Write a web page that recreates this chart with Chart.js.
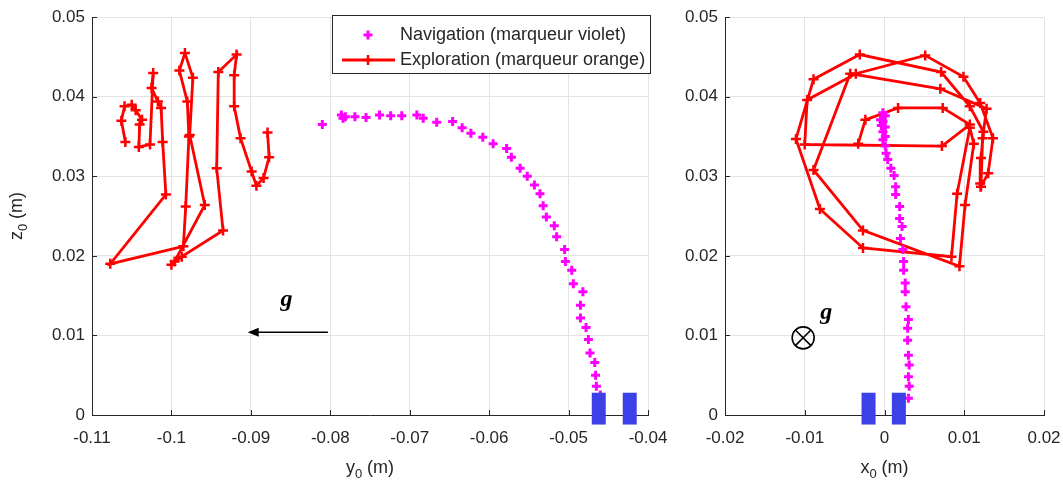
<!DOCTYPE html>
<html><head><meta charset="utf-8">
<script src="https://cdn.jsdelivr.net/npm/chart.js@4.4.1/dist/chart.umd.min.js"></script>
<style>
html,body{margin:0;padding:0;background:#fff;}
#wrap{position:relative;width:1063px;height:489px;overflow:hidden;background:#fff;}
canvas{position:absolute;left:0;top:0;}
</style></head><body>
<div id="wrap"><canvas id="cL" width="1063" height="489"></canvas><canvas id="cR" width="1120" height="489"></canvas></div>
<script>
// ---------- data (left panel: y0 vs z0) ----------
const navLeftY = [-0.0810,-0.0786,-0.0784,-0.0781,-0.0769,-0.0755,-0.0738,-0.0724,-0.0710,-0.0691,-0.0683,-0.0666,-0.0646,-0.0634,-0.0623,-0.0608,-0.0595,-0.0578,-0.0572,-0.0561,-0.0552,-0.0543,-0.0536,-0.0532,-0.0528,-0.0518,-0.0515,-0.0505,-0.0504,-0.0496,-0.0494,-0.0482,-0.0485,-0.0485,-0.0478,-0.0475,-0.0473,-0.0467,-0.0466,-0.0465,-0.0460];
const navLeftZ = [0.0365,0.0377,0.0373,0.0375,0.0375,0.0374,0.0377,0.0376,0.0376,0.0377,0.0373,0.0368,0.0369,0.0361,0.0354,0.0349,0.0341,0.0335,0.0324,0.0310,0.0300,0.0289,0.0278,0.0263,0.0249,0.0238,0.0224,0.0208,0.0193,0.0182,0.0165,0.0155,0.0138,0.0122,0.0110,0.0095,0.0078,0.0066,0.0050,0.0036,0.0025];
const expLeftY = [-0.1058,-0.1063,-0.1059,-0.1050,-0.1045,-0.1037,-0.1040,-0.1041,-0.1027,-0.1023,-0.1025,-0.1017,-0.1013,-0.1011,-0.1007,-0.1077,-0.0985,-0.0982,-0.0978,-0.0980,-0.0990,-0.0983,-0.0973,-0.0977,-0.0958,-0.0996,-0.1000,-0.0987,-0.0935,-0.0943,-0.0941,-0.0918,-0.0921,-0.0921,-0.0913,-0.0899,-0.0893,-0.0884,-0.0877,-0.0879];
const expLeftZ = [0.0343,0.0370,0.0388,0.0390,0.0383,0.0371,0.0365,0.0337,0.0340,0.0430,0.0411,0.0394,0.0386,0.0343,0.0277,0.0190,0.0212,0.0262,0.0350,0.0394,0.0433,0.0455,0.0424,0.0352,0.0264,0.0193,0.0189,0.0199,0.0232,0.0310,0.0431,0.0453,0.0427,0.0388,0.0348,0.0306,0.0288,0.0298,0.0324,0.0355];
const blocksLeftY = [-0.0462,-0.0423];

// ---------- data (right panel: x0 vs z0) ----------
const navRightX = [-0.0002,0.0001,-0.0005,-0.0002,-0.0004,0.0001,-0.0002,0.0001,-0.0002,0.0001,0.0002,0.0004,0.0008,0.0012,0.0014,0.0014,0.0019,0.0019,0.0022,0.0020,0.0023,0.0024,0.0024,0.0026,0.0026,0.0027,0.0030,0.0029,0.0029,0.0030,0.0031,0.0030,0.0031,0.0030];
const navRightZ = [0.0380,0.0376,0.0371,0.0369,0.0364,0.0362,0.0356,0.0350,0.0346,0.0338,0.0329,0.0321,0.0310,0.0301,0.0287,0.0277,0.0262,0.0247,0.0237,0.0222,0.0208,0.0193,0.0182,0.0166,0.0155,0.0136,0.0120,0.0109,0.0094,0.0075,0.0063,0.0048,0.0036,0.0021];
const expRightX = [-0.0033,-0.0024,0.0017,0.0073,0.0107,0.0072,-0.0100,-0.0097,-0.0036,0.0051,0.0099,0.0120,0.0136,0.0130,0.0121,0.0123,0.0128,0.0070,-0.0043,-0.0089,-0.0027,0.0094,0.0101,0.0112,0.0107,0.0091,0.0084,-0.0027,-0.0081,-0.0111,-0.0089,-0.0031,0.0071,0.0107,0.0124,0.0121,0.0120];
const expRightZ = [0.0341,0.0371,0.0386,0.0386,0.0365,0.0338,0.0340,0.0396,0.0429,0.0452,0.0425,0.0392,0.0348,0.0304,0.0287,0.0348,0.0385,0.0410,0.0429,0.0308,0.0232,0.0187,0.0264,0.0341,0.0361,0.0278,0.0199,0.0210,0.0259,0.0347,0.0422,0.0453,0.0431,0.0388,0.0356,0.0323,0.0291];
const blocksRightX = [-0.0020,0.0018];

// ---------- ticks ----------
const leftXTicks = [-0.11,-0.1,-0.09,-0.08,-0.07,-0.06,-0.05,-0.04];
const leftXTickLabels = ["-0.11","-0.1","-0.09","-0.08","-0.07","-0.06","-0.05","-0.04"];
const rightXTicks = [-0.02,-0.01,0,0.01,0.02];
const rightXTickLabels = ["-0.02","-0.01","0","0.01","0.02"];
const zTicks = [0,0.01,0.02,0.03,0.04,0.05];
const zTickLabels = ["0","0.01","0.02","0.03","0.04","0.05"];
const seriesNames = ["Navigation (marqueur violet)","Exploration (marqueur orange)"];

const FONT = '"Liberation Sans", Arial, Helvetica, sans-serif';
const INK = '#262626';
const MAG = '#ff00ff', RED = '#ff0000', BLUE = '#3b41e6';

function pts(a, b){ return a.map((v,i)=>({x:v, y:b[i]})); }

function drawCross(ctx, x, y, r, lw, color){
  ctx.save(); ctx.strokeStyle=color; ctx.lineWidth=lw;
  ctx.beginPath(); ctx.moveTo(x-r,y); ctx.lineTo(x+r,y); ctx.moveTo(x,y-r); ctx.lineTo(x,y+r); ctx.stroke();
  ctx.restore();
}

function axisTitle(ctx, main, sub, rest, cx, cy, rotate){
  ctx.save();
  ctx.translate(cx, cy);
  if (rotate) ctx.rotate(-Math.PI/2);
  ctx.fillStyle = INK; ctx.textBaseline='alphabetic'; ctx.textAlign='left';
  const f1 = '18px '+FONT, f2 = '13px '+FONT;
  ctx.font=f1; const w1=ctx.measureText(main).width, w3=ctx.measureText(rest).width;
  ctx.font=f2; const w2=ctx.measureText(sub).width;
  let x = -(w1+w2+w3)/2;
  ctx.font=f1; ctx.fillText(main, x, 6); x+=w1;
  ctx.font=f2; ctx.fillText(sub, x, 11); x+=w2;
  ctx.font=f1; ctx.fillText(rest, x, 6);
  ctx.restore();
}

function gGlyph(ctx, x, y){
  ctx.save(); ctx.fillStyle='#000'; ctx.font='bold italic 24px "Liberation Serif", "Times New Roman", serif';
  ctx.textAlign='center'; ctx.textBaseline='middle'; ctx.fillText('g', x, y); ctx.restore();
}

const decor = {
  id:'decor',
  afterDatasetsDraw(chart, args, o){
    const {ctx, chartArea:a, scales:{x,y}} = chart;
    ctx.save(); ctx.fillStyle=BLUE;
    const hw = 0.00088;
    o.blocks.forEach(c=>{
      const x0=x.getPixelForValue(c-hw), x1=x.getPixelForValue(c+hw);
      const y0=y.getPixelForValue(0.0028), y1=y.getPixelForValue(-0.0012);
      ctx.fillRect(x0, y0, x1-x0, y1-y0);
    });
    ctx.restore();
  },
  afterDraw(chart, args, o){
    const {ctx, chartArea:a, scales:{x,y}} = chart;
    ctx.save(); ctx.strokeStyle=INK; ctx.lineWidth=1;
    x.ticks.forEach(t=>{const px=Math.round(x.getPixelForValue(t.value))+0.5; ctx.beginPath(); ctx.moveTo(px,a.bottom); ctx.lineTo(px,a.bottom-5); ctx.stroke();});
    y.ticks.forEach(t=>{const py=Math.round(y.getPixelForValue(t.value))+0.5; ctx.beginPath(); ctx.moveTo(a.left,py); ctx.lineTo(a.left+5,py); ctx.stroke();});
    ctx.restore();
    axisTitle(ctx, o.xTitle, '0', ' (m)', (a.left+a.right)/2, 467, false);
    if (o.zTitle) axisTitle(ctx, 'z', '0', ' (m)', 16, 216, true);
    if (o.arrow){
      const x0=x.getPixelForValue(-0.0803), x1=x.getPixelForValue(-0.0904), py=y.getPixelForValue(0.0104);
      ctx.save(); ctx.strokeStyle='#000'; ctx.fillStyle='#000'; ctx.lineWidth=1.6;
      ctx.beginPath(); ctx.moveTo(x0,py); ctx.lineTo(x1+6,py); ctx.stroke();
      ctx.beginPath(); ctx.moveTo(x1,py); ctx.lineTo(x1+11,py-4.5); ctx.lineTo(x1+11,py+4.5); ctx.closePath(); ctx.fill();
      ctx.restore();
      gGlyph(ctx, x.getPixelForValue(-0.0855), y.getPixelForValue(0.0145));
    }
    if (o.otimes){
      const cx=x.getPixelForValue(-0.0102), cy=y.getPixelForValue(0.0097), r=11;
      ctx.save(); ctx.strokeStyle='#000'; ctx.lineWidth=1.6;
      ctx.beginPath(); ctx.arc(cx,cy,r,0,Math.PI*2); ctx.stroke();
      const d=r*Math.SQRT1_2;
      ctx.beginPath(); ctx.moveTo(cx-d,cy-d); ctx.lineTo(cx+d,cy+d); ctx.moveTo(cx+d,cy-d); ctx.lineTo(cx-d,cy+d); ctx.stroke();
      ctx.restore();
      gGlyph(ctx, x.getPixelForValue(-0.0073), y.getPixelForValue(0.0128));
    }
    if (o.legend){
      const lx=332.5, ly=15.5, lw=318, lh=58;
      ctx.save();
      ctx.fillStyle='#fff'; ctx.fillRect(lx,ly,lw,lh);
      ctx.strokeStyle=INK; ctx.lineWidth=1; ctx.strokeRect(lx,ly,lw,lh);
      drawCross(ctx, 368, 35, 4.5, 3, MAG);
      ctx.strokeStyle=RED; ctx.lineWidth=3; ctx.beginPath(); ctx.moveTo(342,60); ctx.lineTo(395,60); ctx.stroke();
      drawCross(ctx, 368, 60, 5, 2.5, RED);
      ctx.fillStyle=INK; ctx.font='18px '+FONT; ctx.textAlign='left'; ctx.textBaseline='middle';
      ctx.fillText(seriesNames[0], 400, 35);
      ctx.fillText(seriesNames[1], 400, 60);
      ctx.restore();
    }
  }
};

function scaleX(min, max, vals, labels){
  return {
    type:'linear', min, max,
    afterBuildTicks: s => { s.ticks = vals.map(v=>({value:v})); },
    afterFit: s => { s.height = 74; },
    ticks:{ callback:(v,i)=>labels[i], font:{family:FONT, size:17}, color:INK, padding:13, maxRotation:0, autoSkip:false },
    grid:{ color:'#e3e3e3', lineWidth:1, drawTicks:false },
    border:{ display:true, color:INK, width:1 }
  };
}
function scaleY(w){
  return {
    type:'linear', min:0, max:0.05,
    afterBuildTicks: s => { s.ticks = zTicks.map(v=>({value:v})); },
    afterFit: s => { s.width = w; },
    ticks:{ callback:(v,i)=>zTickLabels[i], font:{family:FONT, size:17}, color:INK, padding:7, autoSkip:false },
    grid:{ color:'#e3e3e3', lineWidth:1, drawTicks:false },
    border:{ display:true, color:INK, width:1 }
  };
}

function datasets(nx, nz, ex, ez){
  return [
    { label:seriesNames[0], data:pts(nx,nz), showLine:false, pointStyle:'cross', pointRadius:4.5, pointBorderWidth:3,
      borderColor:MAG, backgroundColor:MAG, pointBorderColor:MAG, clip:false },
    { label:seriesNames[1], data:pts(ex,ez), showLine:true, tension:0, borderColor:RED, borderWidth:2.8,
      pointStyle:'cross', pointRadius:5, pointBorderWidth:2.5, pointBorderColor:RED, backgroundColor:RED, clip:false }
  ];
}

const common = { responsive:false, animation:false, devicePixelRatio:1, events:[] };

new Chart(document.getElementById('cL'), {
  type:'scatter',
  data:{ datasets: datasets(navLeftY, navLeftZ, expLeftY, expLeftZ) },
  options:Object.assign({}, common, {
    layout:{ padding:{ left:0, right:1063-648, top:17, bottom:0 } },
    scales:{ x: scaleX(-0.11, -0.04, leftXTicks, leftXTickLabels), y: scaleY(92) },
    plugins:{ legend:{display:false}, tooltip:{enabled:false},
      decor:{ blocks:blocksLeftY, xTitle:'y', zTitle:true, arrow:true, otimes:false, legend:true } }
  }),
  plugins:[decor]
});

new Chart(document.getElementById('cR'), {
  type:'scatter',
  data:{ datasets: datasets(navRightX, navRightZ, expRightX, expRightZ) },
  options:Object.assign({}, common, {
    layout:{ padding:{ left:665, right:1120-1044, top:17, bottom:0 } },
    scales:{ x: scaleX(-0.02, 0.02, rightXTicks, rightXTickLabels), y: scaleY(60) },
    plugins:{ legend:{display:false}, tooltip:{enabled:false},
      decor:{ blocks:blocksRightX, xTitle:'x', zTitle:false, arrow:false, otimes:true, legend:false } }
  }),
  plugins:[decor]
});
</script>
</body></html>
